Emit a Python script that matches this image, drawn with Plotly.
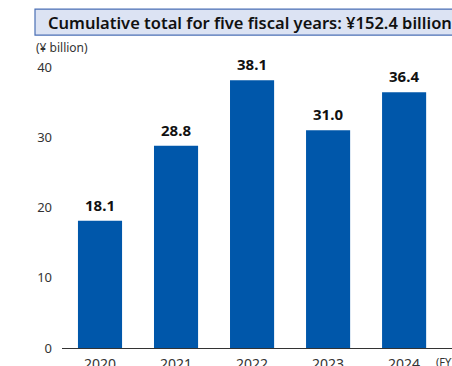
import plotly.graph_objects as go

years = ["2020", "2021", "2022", "2023", "2024"]
values = [18.1, 28.8, 38.1, 31.0, 36.4]
value_labels = ["18.1", "28.8", "38.1", "31.0", "36.4"]
y_ticks = [0, 10, 20, 30, 40]
title_text = "Cumulative total for five fiscal years: ¥152.4 billion"
unit_text = "(¥ billion)"
fy_text = "(FY)"

BAR = "#0057AA"
FONT = "Noto Sans"

fig = go.Figure()
fig.add_trace(go.Bar(x=list(range(len(years))), y=values, marker_color=BAR,
                     marker_line_width=0, width=0.58, hoverinfo="skip"))

for i, (v, t) in enumerate(zip(values, value_labels)):
    fig.add_annotation(x=i, y=v, text=t, showarrow=False, yanchor="bottom",
                       yshift=4, font=dict(family=FONT, size=15, color="#111111", weight=700))

fig.update_layout(
    width=452, height=366,
    margin=dict(l=62, r=0, t=67, b=17.5),
    paper_bgcolor="white", plot_bgcolor="white",
    showlegend=False,
    xaxis=dict(range=[-0.5, 4.63], tickmode="array", tickvals=list(range(len(years))),
               ticktext=years, showgrid=False, zeroline=False, showline=True,
               linecolor="#333333", linewidth=1, ticks="", ticklabelstandoff=3,
               automargin=False,
               tickfont=dict(family=FONT, size=14, color="#333333"), fixedrange=True),
    yaxis=dict(range=[0, 40], tickvals=y_ticks, showgrid=False, zeroline=False,
               showline=False, ticks="", ticklabelstandoff=9, automargin=False,
               tickfont=dict(family=FONT, size=13, color="#333333"), fixedrange=True),
    shapes=[dict(type="rect", xref="paper", yref="paper",
                 x0=(35 - 62) / 390, x1=(470 - 62) / 390,
                 y0=(348.5 - 35) / 281.5, y1=(348.5 - 9) / 281.5,
                 fillcolor="#DCE3F3", line=dict(color="#4A6FB5", width=1.2), layer="below")],
)

fig.add_annotation(xref="paper", yref="paper", x=(46 - 62) / 390, y=(348.5 - 22) / 281.5,
                   xanchor="left", yanchor="middle", text=title_text, showarrow=False,
                   font=dict(family=FONT, size=16.5, color="#111111", weight=600))
fig.add_annotation(xref="paper", yref="paper", x=(34 - 62) / 390, y=(348.5 - 47) / 281.5,
                   xanchor="left", yanchor="middle", text=unit_text, showarrow=False,
                   font=dict(family=FONT, size=12, color="#333333"))
fig.add_annotation(xref="paper", yref="paper", x=(434 - 62) / 390, y=(348.5 - 362) / 281.5,
                   xanchor="left", yanchor="middle", text=fy_text, showarrow=False,
                   font=dict(family=FONT, size=11, color="#333333"))

fig.write_html("out.html")
